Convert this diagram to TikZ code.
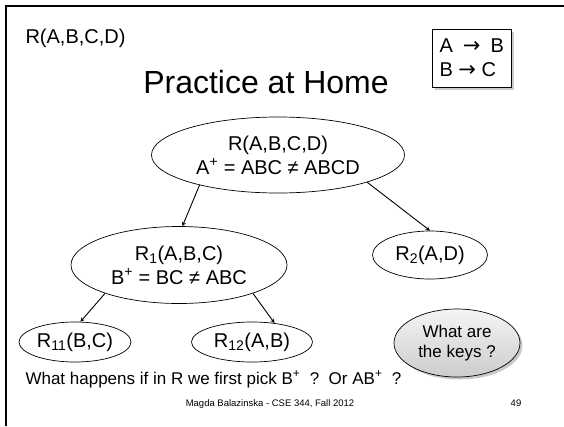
\documentclass[tikz,border=0pt]{standalone}
\usepackage{fontspec}
\setmainfont{Liberation Sans}
\newfontfamily\arrowfont{DejaVu Sans}
\usepackage{tikz}
\usetikzlibrary{
    arrows,
    shapes,
    shadows
}
\newcommand{\relfont}{\fontsize{20}{24}\selectfont}
\newcommand{\notefont}{\fontsize{17}{20}\selectfont}
\newcommand{\bigtitle}{\fontsize{32}{38}\selectfont}
\newcommand{\footfont}{\fontsize{9.5}{11}\selectfont}
\newcommand{\fdarrow}{{\arrowfont\fontsize{21}{24}\selectfont →}}

\begin{document}
\begin{tikzpicture}[x=1pt, y=-1pt,
    rel/.style={draw, ellipse, inner sep=0pt, align=center, font=\relfont, line width=0.7pt},
    link/.style={->, >=stealth, line width=0.9pt},
    softshadow/.style={drop shadow={shadow xshift=2.5pt, shadow yshift=-2.5pt, fill=gray!70, opacity=0.6}}]
            \useasboundingbox (0,0) rectangle (564,426);
            \draw[line width=2pt] (6,426) -- (6,6) -- (564,6);
            
            \node[anchor=base west, font=\relfont] (schema) at (22,43) {R(A,B,C,D)};
            \node[anchor=base, font=\bigtitle] (title) at (266,93) {Practice at Home};
            \node[draw, fill=white, softshadow, anchor=north west, align=left, font=\relfont, inner xsep=2pt, inner ysep=3pt, minimum width=79, minimum height=58] (fds) at (432,29) {A\enspace\fdarrow\enspace B\\B \fdarrow\ C};
            
            \node[rel, minimum width=253, minimum height=76] (root) at (278,155) {R(A,B,C,D)\\A\textsuperscript{+} = ABC ≠ ABCD};
            \node[rel, minimum width=216, minimum height=77] (r1) at (179,265) {R\textsubscript{1}(A,B,C)\\B\textsuperscript{+} = BC ≠ ABC};
            \node[rel, minimum width=115, minimum height=48] (r2) at (430,255) {R\textsubscript{2}(A,D)};
            \node[rel, minimum width=112, minimum height=40] (r11) at (75,342) {R\textsubscript{11}(B,C)};
            \node[rel, minimum width=121, minimum height=40] (r12) at (252,342) {R\textsubscript{12}(A,B)};
            \node[rel, font=\notefont, top color=gray!8, bottom color=gray!40, softshadow, minimum width=126, minimum height=68] (keys) at (457,343) {What are\\the keys ?};
            
            \draw[link] (root.201)--(r1.85);
            \draw[link] (root.343)--(r2.north);
            \draw[link] (r1.201)--(r11.75);
            \draw[link] (r1.339)--(r12.40);
            
            \node[anchor=base west, font=\notefont] (question) at (22,384) {What happens if in R we first pick B\textsuperscript{+}\ \ ?\ \ Or AB\textsuperscript{+}\ \ ?};
            \node[anchor=base, font=\footfont] (footer) at (270,406) {Magda Balazinska - CSE 344, Fall 2012};
            \node[anchor=base, font=\footfont] (page) at (516,406) {49};
\end{tikzpicture}
\end{document}
